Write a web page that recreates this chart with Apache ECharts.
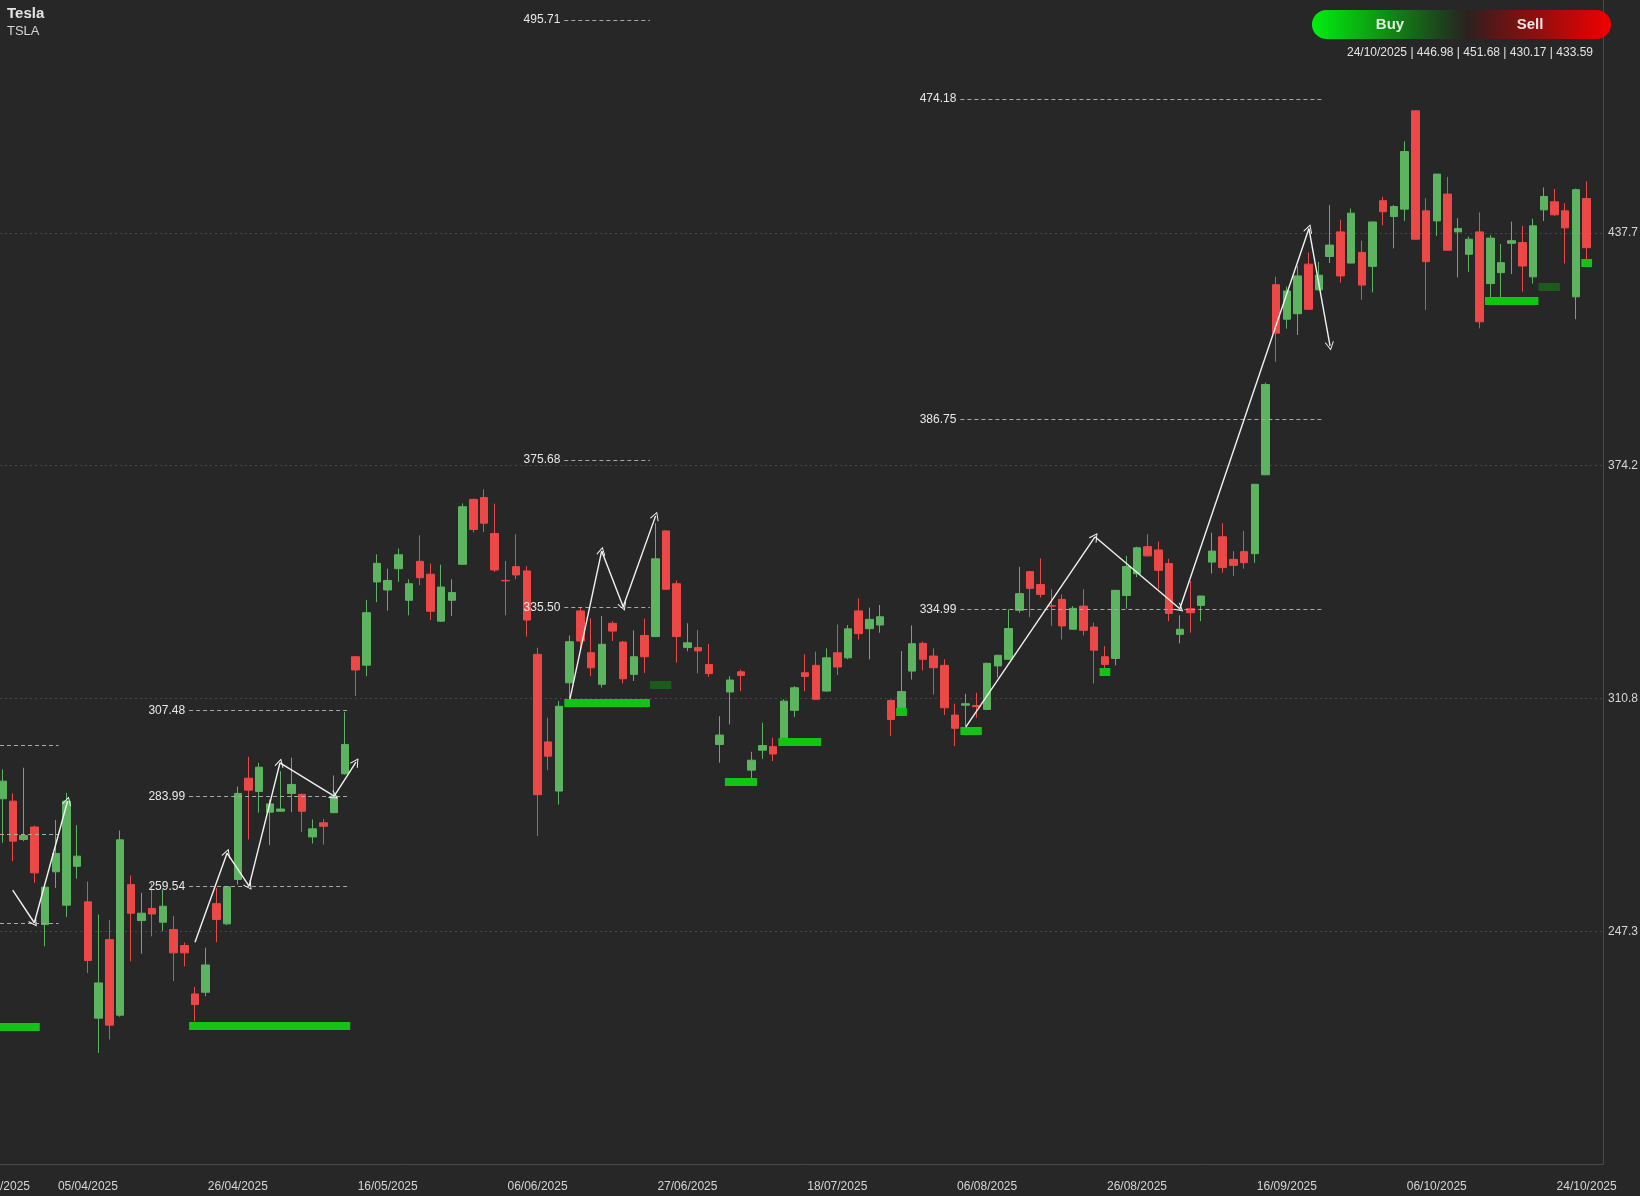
<!DOCTYPE html>
<html><head><meta charset="utf-8">
<script src="https://cdn.jsdelivr.net/npm/echarts@6/dist/echarts.min.js"></script>
<style>html,body{margin:0;padding:0;background:#272727;}#c{width:1640px;height:1196px;}</style>
</head><body><div id="c"></div>
<script>
// ---- candle data (index 0..148, last = 24/10/2025) ----
const opens = [283.4,282.75,272.3,275.7,249.1,263.5,254.4,265.0,255.3,223.6,245.0,224.4,260.0,250.2,253.5,249.75,247.75,243.4,230.2,230.66,
254.8,249.3,261.4,289.0,285.4,279.75,280.0,284.85,284.6,273.0,276.85,279.6,290.2,322.1,319.8,342.5,340.3,346.1,337.5,348.1,
344.6,331.8,337.5,347.3,365.0,365.5,355.7,342.9,346.65,345.5,322.75,298.9,285.5,315.0,334.6,323.2,314.6,331.2,326.1,317.3,
327.9,327.6,356.4,342.0,324.6,324.6,320.0,298.2,312.5,318.0,291.2,296.65,297.6,300.0,307.5,317.75,319.75,312.75,323.2,321.8,
334.6,329.75,330.75,310.2,308.2,318.2,325.75,322.3,319.75,306.2,308.9,308.8,307.75,319.6,321.4,334.75,345.3,341.8,336.0,337.75,
329.6,335.9,330.2,322.1,321.65,338.8,344.75,352.1,351.2,347.5,328.2,335.2,336.1,347.9,354.8,348.65,350.75,350.2,371.7,423.5,
414.1,415.6,429.1,422.1,431.2,437.9,429.4,432.3,428.5,446.4,442.1,444.1,470.9,443.65,440.9,448.2,437.9,431.8,437.9,423.8,
426.8,434.8,435.0,425.65,443.9,446.1,443.65,420.2,446.98];
const highs = [291.4,284.85,291.85,276.1,259.3,277.6,285.0,276.2,260.85,251.85,250.3,274.75,262.5,257.75,260.5,258.7,251.4,244.2,232.1,242.8,
259.1,259.6,286.7,294.85,293.2,283.2,290.9,294.6,284.8,277.75,277.9,289.75,307.0,322.3,337.6,350.0,346.1,351.6,343.2,355.2,
347.5,347.2,343.2,363.9,365.2,367.75,363.8,348.2,355.5,346.8,324.55,305.5,310.0,327.9,335.5,332.6,333.2,331.8,326.4,329.3,
332.5,358.5,356.6,342.9,331.2,329.4,325.6,305.9,316.8,318.6,296.2,304.1,300.0,310.5,314.1,322.75,323.5,324.4,330.9,330.75,
338.0,335.5,336.2,310.4,323.65,330.65,326.2,324.4,321.4,309.3,312.0,312.3,320.5,322.6,335.0,346.6,345.5,348.9,340.5,339.1,
335.9,340.5,331.4,325.0,340.3,349.6,352.1,355.5,353.5,348.8,333.4,342.75,338.7,355.9,358.5,350.9,356.4,369.2,396.8,425.7,
423.0,428.6,432.3,429.7,445.2,441.2,444.3,435.5,440.7,447.5,445.2,462.6,471.0,447.1,453.7,452.9,441.65,436.6,443.2,437.0,
434.6,440.7,439.5,441.5,450.0,449.6,445.7,449.7,451.68];
const lows = [271.4,266.4,271.85,260.5,243.2,259.1,251.2,261.6,235.9,214.1,217.8,224.0,239.1,241.2,245.9,247.3,233.7,237.7,222.75,229.6,
244.3,249.0,260.0,272.3,279.6,270.75,279.9,279.75,274.3,271.2,270.9,279.5,290.0,311.4,316.8,337.0,334.7,342.5,333.4,341.6,
332.1,331.6,333.2,347.2,356.0,356.1,345.2,333.4,343.2,327.6,273.2,291.2,281.8,310.0,324.1,316.8,313.7,326.4,314.8,315.5,
317.7,327.5,340.3,320.5,323.6,317.6,316.6,293.2,303.65,312.75,288.9,294.3,293.65,299.8,305.65,312.75,310.4,312.6,317.1,321.4,
326.8,321.4,328.65,300.5,308.0,315.9,318.4,311.8,306.2,297.75,303.2,305.5,307.6,316.4,321.3,334.1,332.9,338.2,330.5,326.8,
329.5,327.9,314.8,318.6,319.75,335.2,343.8,349.4,340.5,331.8,325.75,328.65,331.8,344.8,345.0,344.1,346.1,347.7,371.6,402.5,
411.5,409.8,416.7,422.0,429.4,424.1,429.3,419.4,421.4,439.7,433.4,440.9,435.8,416.65,436.8,432.8,425.5,427.0,411.6,420.0,
418.0,426.4,421.6,423.8,440.9,442.3,429.3,414.1,430.17];
const closes = [288.2,271.85,273.4,263.2,259.3,268.5,282.75,267.75,239.3,233.2,221.7,272.2,252.2,252.2,252.0,254.1,241.4,241.4,227.3,238.1,
250.5,259.4,284.85,285.75,292.0,282.0,280.6,287.3,280.0,275.2,275.9,284.1,298.2,318.5,334.1,347.56,342.9,349.9,342.0,343.65,
334.5,341.1,339.6,363.0,356.8,358.5,345.75,342.8,344.4,332.1,284.5,295.0,308.6,326.2,326.4,319.1,325.5,329.1,316.1,322.1,
322.1,348.8,340.5,327.6,325.9,323.7,317.5,300.75,315.75,317.0,293.9,297.9,295.6,310.0,313.65,316.75,310.5,321.8,319.3,329.7,
328.4,332.3,333.0,305.0,312.6,325.65,321.4,319.1,308.2,302.6,309.3,308.5,320.3,322.5,329.8,339.3,340.75,339.1,335.9,330.5,
335.3,329.3,323.9,320.0,340.2,346.7,351.8,349.6,345.65,333.9,329.6,334.1,338.65,350.9,346.4,347.0,347.75,369.1,396.3,410.3,
421.8,425.9,416.8,426.1,434.3,425.9,443.0,423.4,440.6,443.4,444.8,459.8,435.9,429.8,453.65,432.9,438.8,435.9,413.4,436.2,
429.5,435.5,428.6,439.55,447.55,442.55,439.0,449.4,433.59];

// ---- axis ticks ----
const xTickIndex = [-0.215, 8, 22, 36, 50, 64, 78, 92, 106, 120, 134, 148];
const xTickLabels = ['15/03/2025','05/04/2025','26/04/2025','16/05/2025','06/06/2025','27/06/2025','18/07/2025','06/08/2025','26/08/2025','16/09/2025','06/10/2025','24/10/2025'];
const yTickValues = [247.3, 310.75, 374.2, 437.65];
const yTickLabels = ['247.3','310.8','374.2','437.7'];

// ---- price levels (dashed) ----
const levelValues = [495.71, 375.68, 335.50, 474.18, 386.75, 334.99, 307.48, 283.99, 259.54, 298.0, 273.7, 249.6];
const levelLabels = ['495.71','375.68','335.50','474.18','386.75','334.99','307.48','283.99','259.54','','',''];
const levelFrom = [52.5, 52.5, 52.5, 89.5, 89.5, 89.5, 17.45, 17.45, 17.45, -0.215, -0.215, -0.215];
const levelTo = [60.5, 60.5, 60.5, 123.5, 123.5, 123.5, 32.5, 32.5, 32.5, 5.25, 5.25, 5.25];

// ---- zones (green bars) ----
const zoneValues = [221.2, 221.6, 309.7, 314.6, 287.9, 299.0, 307.0, 302.0, 317.9, 419.0, 422.9, 429.4];
const zoneFrom = [-0.215, 17.45, 52.5, 60.5, 67.5, 72.5, 83.5, 89.5, 102.5, 138.5, 143.5, 147.5];
const zoneTo = [3.5, 32.5, 60.5, 62.5, 70.5, 76.5, 84.5, 91.5, 103.5, 143.5, 145.5, 148.5];
const zoneStrong = [1, 1, 1, 0, 1, 1, 1, 1, 1, 1, 0, 1];

// ---- zigzag paths [index, price] ----
const zigzag1 = [[-0.4, 249.8], [0.97, 258.5], [2.99, 249.6], [6.1, 282.8]];
const zigzag2 = [[18.0, 244.3], [21.0, 268.6], [23.05, 259.6], [25.94, 293.2], [31.0, 284.1], [33.04, 293.4]];
const zigzag3 = [[53.03, 310.6], [55.99, 350.9], [58.0, 335.75], [61.03, 360.5]];
const zigzag4 = [[90.0, 302.9], [102.07, 354.8], [110.0, 335.2], [122.06, 438.8], [124.03, 406.8]];

// ---- header ----
const titleName = 'Tesla';
const titleTicker = 'TSLA';
const lastBar = '24/10/2025 | 446.98 | 451.68 | 430.17 | 433.59';

const FONT = '"Liberation Sans", Arial, Helvetica, sans-serif';
const candleData = opens.map((o, i) => [i, o, closes[i], lows[i], highs[i]]);

const levelData = levelValues.map((v, k) => [
  { coord: [levelFrom[k], v], label: { show: levelLabels[k] !== '', formatter: levelLabels[k] } },
  { coord: [levelTo[k], v] }
]);
const zoneData = zoneValues.map((v, k) => [
  { coord: [zoneFrom[k], v], lineStyle: { color: zoneStrong[k] ? '#14c414' : '#1d5a1d' } },
  { coord: [zoneTo[k], v] }
]);
const chevron = 'path://M0,0 L10,13 L8.4,14.2 L0,3.2 L-8.4,14.2 L-10,13 Z';
const zigData = [];
[zigzag1, zigzag2, zigzag3, zigzag4].forEach(p => {
  for (let k = 1; k < p.length; k++) zigData.push([{ coord: p[k - 1] }, { coord: p[k] }]);
});

const chart = echarts.init(document.getElementById('c'), null, { renderer: 'canvas' });
chart.setOption({
  backgroundColor: '#272727',
  animation: false,
  textStyle: { fontFamily: FONT },
  grid: { left: 0, right: 37, top: 0, bottom: 32, containLabel: false, outerBoundsMode: 'none' },
  xAxis: {
    type: 'value', min: -0.215, max: 149.53,
    axisLine: { show: true, onZero: false, lineStyle: { color: '#4a4a4a' } },
    axisTick: { show: false },
    splitLine: { show: false },
    axisLabel: {
      customValues: xTickIndex, color: '#d6d6d6', fontSize: 12, margin: 17, fontFamily: FONT,
      showMinLabel: true,
      formatter: v => { const k = xTickIndex.findIndex(t => Math.abs(t - v) < 0.01); return k >= 0 ? xTickLabels[k] : ''; }
    }
  },
  yAxis: {
    type: 'value', position: 'right', min: 183.85, max: 501.1, scale: true,
    axisLine: { show: true, onZero: false, lineStyle: { color: '#4a4a4a' } },
    axisTick: { show: false, customValues: yTickValues },
    splitLine: { show: true, lineStyle: { color: '#474747', type: [2, 3], width: 1 } },
    axisLabel: {
      customValues: yTickValues, color: '#d6d6d6', fontSize: 12, margin: 5, fontFamily: FONT,
      formatter: v => { const k = yTickValues.findIndex(t => Math.abs(t - v) < 0.01); return k >= 0 ? yTickLabels[k] : ''; }
    }
  },
  series: [
    {
      type: 'line', data: [], silent: true,
      markLine: {
        silent: true, animation: false, symbol: ['none', 'none'],
        lineStyle: { width: 8, type: 'solid', color: '#14c414' },
        label: { show: false },
        data: zoneData
      }
    },
    {
      type: 'candlestick', data: candleData, barWidth: 8, clip: true,
      itemStyle: { color: '#5db460', color0: '#ec4848', borderColor: '#5db460', borderColor0: '#ec4848', borderWidth: 1 }
    },
    {
      type: 'line', data: [], silent: true,
      markLine: {
        silent: true, animation: false, symbol: ['none', 'none'],
        lineStyle: { color: '#a8a8a8', type: [4, 3], width: 1 },
        label: { position: 'start', color: '#e8e8e8', fontSize: 12, distance: 4, fontFamily: FONT },
        emphasis: { disabled: true },
        data: levelData
      }
    },
    {
      type: 'line', data: [], silent: true,
      markLine: {
        silent: true, animation: false, symbol: ['none', chevron], symbolSize: [9, 9],
        lineStyle: { color: '#f2f2f2', type: 'solid', width: 1.4 },
        itemStyle: { color: '#f2f2f2' },
        label: { show: false },
        emphasis: { disabled: true },
        data: zigData
      }
    }
  ],
  graphic: [
    { type: 'text', x: 7, y: 6, style: { text: titleName, font: 'bold 15px ' + FONT, fill: '#e4e4e4' } },
    { type: 'text', x: 7, y: 25, style: { text: titleTicker, font: '13px ' + FONT, fill: '#d4d4d4' } },
    {
      type: 'rect', shape: { x: 1312, y: 10, width: 299, height: 29, r: 14.5 },
      style: {
        fill: new echarts.graphic.LinearGradient(0, 0, 1, 0, [
          { offset: 0, color: '#00ee10' }, { offset: 0.22, color: '#0d9a12' },
          { offset: 0.45, color: '#1e3c1e' }, { offset: 0.52, color: '#2c2121' },
          { offset: 0.62, color: '#5c1616' }, { offset: 1, color: '#f20000' }
        ])
      }
    },
    { type: 'text', x: 1390, y: 24.5, style: { text: 'Buy', font: 'bold 15px ' + FONT, fill: '#e2efe0', textAlign: 'center', textVerticalAlign: 'middle' } },
    { type: 'text', x: 1530, y: 24.5, style: { text: 'Sell', font: 'bold 15px ' + FONT, fill: '#f3e2e2', textAlign: 'center', textVerticalAlign: 'middle' } },
    { type: 'text', x: 1593, y: 53, style: { text: lastBar, font: '12px ' + FONT, fill: '#e4e4e4', textAlign: 'right', textVerticalAlign: 'middle' } }
  ]
});
</script></body></html>
